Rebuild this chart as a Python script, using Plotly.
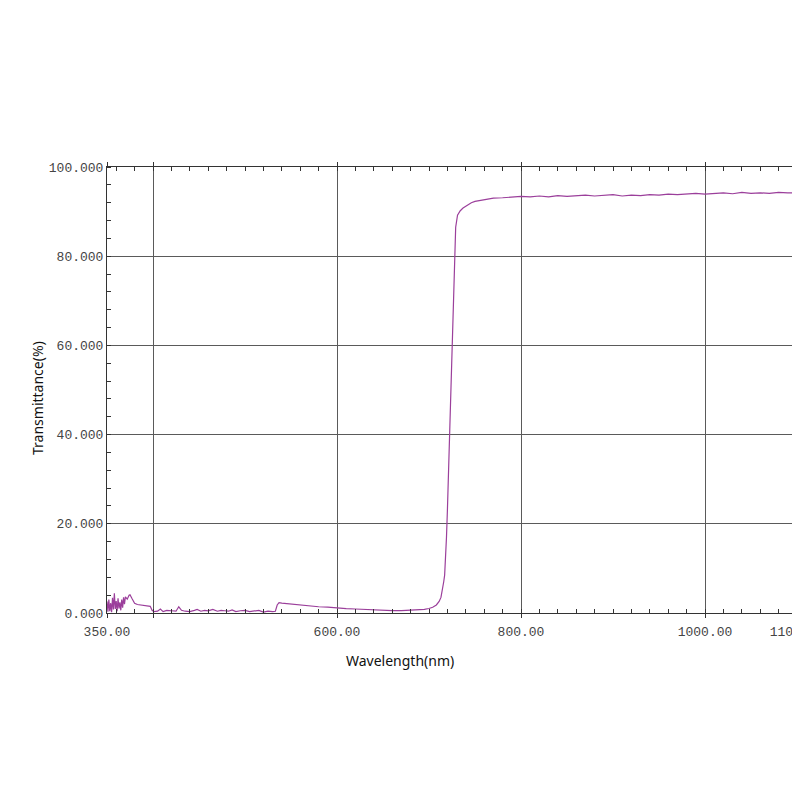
import plotly.graph_objects as go

# transmission spectrum, values
wavelength = [350, 351, 352, 353, 354, 355, 356, 357, 358, 359, 360, 361, 362, 363, 364,
              365, 366, 367, 368, 369, 370, 372, 374, 375, 377, 380, 383, 386, 390, 394,
              397, 399, 401, 405, 408, 411, 415, 420, 425, 428, 431, 435, 440, 445, 448,
              452, 456, 460, 465, 470, 474, 478, 482, 486, 490, 495, 500, 505, 510, 515,
              520, 525, 530, 533, 535, 537, 540, 545, 550, 560, 570, 580, 590, 600, 610,
              620, 630, 640, 650, 660, 670, 680, 690, 695, 700, 704, 708, 711, 713, 715,
              716, 717, 718, 719, 720, 721, 722, 723, 724, 725, 726, 727, 728, 729, 731,
              734, 737, 742, 746, 750, 760, 770, 780, 790, 800, 810, 820, 830, 840, 850,
              860, 870, 880, 890, 900, 910, 920, 930, 940, 950, 960, 970, 980, 990, 1000,
              1010, 1020, 1030, 1040, 1050, 1060, 1070, 1080, 1090, 1100]
transmittance = [2.6, 0.3, 3.0, 0.4, 2.2, 0.2, 3.4, 0.8, 4.4, 0.9, 2.7, 0.4, 3.3, 1.0, 2.4,
                 0.6, 3.0, 1.2, 3.5, 2.0, 3.6, 3.1, 4.0, 4.1, 3.3, 2.2, 1.9, 1.8, 1.7, 1.6,
                 1.5, 0.6, 0.3, 0.4, 0.9, 0.3, 0.6, 0.5, 0.4, 1.4, 0.6, 0.4, 0.3, 0.6, 0.8,
                 0.4, 0.6, 0.5, 0.8, 0.4, 0.6, 0.5, 0.4, 0.7, 0.3, 0.5, 0.6, 0.3, 0.4, 0.6,
                 0.2, 0.4, 0.3, 0.4, 1.8, 2.3, 2.2, 2.1, 1.9, 1.7, 1.6, 1.4, 1.3, 1.1, 1.0,
                 0.9, 0.8, 0.65, 0.6, 0.55, 0.55, 0.6, 0.7, 0.8, 1.0, 1.3, 1.8, 2.6, 3.5, 5.5,
                 7.0, 8.5, 12.0, 17.0, 23.0, 30.0, 37.0, 45.0, 53.0, 61.0, 69.0, 77.0, 83.0, 86.5, 89.2,
                 90.2, 90.8, 91.5, 92.0, 92.3, 92.7, 93.0, 93.1, 93.3, 93.4, 93.3, 93.5, 93.3, 93.6, 93.4,
                 93.5, 93.7, 93.5, 93.6, 93.8, 93.5, 93.7, 93.6, 93.8, 93.7, 93.9, 93.8, 94.0, 94.1, 93.9,
                 94.0, 94.2, 94.0, 94.3, 94.1, 94.2, 94.1, 94.3, 94.2, 94.2]

x_ticks = [350, 400, 600, 800, 1000, 1100]
x_labels = ["350.00", "", "600.00", "800.00", "1000.00", "1100.00"]
y_ticks = [0, 20, 40, 60, 80, 100]
y_labels = ["0.000", "20.000", "40.000", "60.000", "80.000", "100.000"]

tick_font = dict(family="Liberation Mono", size=13, color="#444444")

fig = go.Figure()
fig.add_trace(go.Scatter(x=wavelength, y=transmittance, mode="lines",
                         line=dict(color="#9b3f9b", width=1.2), hoverinfo="skip"))

fig.update_xaxes(range=[350, 1100], tickvals=x_ticks, ticktext=x_labels,
                 ticks="outside", ticklen=4, tickcolor="#333333", ticklabelstandoff=2,
                 ticklabeloverflow="allow",
                 showgrid=True, gridcolor="#5a5a5a", gridwidth=1, zeroline=False,
                 showline=True, linecolor="#333333", linewidth=1, mirror="ticks",
                 minor=dict(dtick=20, tick0=0, ticks="inside", ticklen=4,
                            tickcolor="#333333", showgrid=False),
                 tickfont=tick_font, automargin=False)
fig.update_yaxes(range=[0, 100], tickvals=y_ticks, ticktext=y_labels,
                 ticks="", showgrid=True, gridcolor="#5a5a5a", gridwidth=1, zeroline=False,
                 showline=True, linecolor="#333333", linewidth=1, mirror="ticks",
                 minor=dict(dtick=4, tick0=0, ticks="inside", ticklen=4,
                            tickcolor="#333333", showgrid=False),
                 tickfont=tick_font, automargin=False)

# the page adds an 8px body margin, so the figure is made 16px smaller and shifted by 8
fig.update_layout(
    width=792, height=784,
    margin=dict(l=99, r=3, t=159, b=179),
    paper_bgcolor="white", plot_bgcolor="white",
    showlegend=False,
    annotations=[
        dict(text="Wavelength(nm)", xref="paper", yref="paper",
             x=(400 - 107) / 690, y=(613 - 660) / 446, showarrow=False,
             xanchor="center", yanchor="middle",
             font=dict(family="Noto Sans", size=14, color="#111111")),
        dict(text="Transmittance(%)", xref="paper", yref="paper",
             x=(37 - 107) / 690, y=(613 - 398) / 446, showarrow=False, textangle=-90,
             xanchor="center", yanchor="middle",
             font=dict(family="Noto Sans", size=14, color="#111111")),
    ],
)

fig.write_html("out.html", config={"responsive": False})
